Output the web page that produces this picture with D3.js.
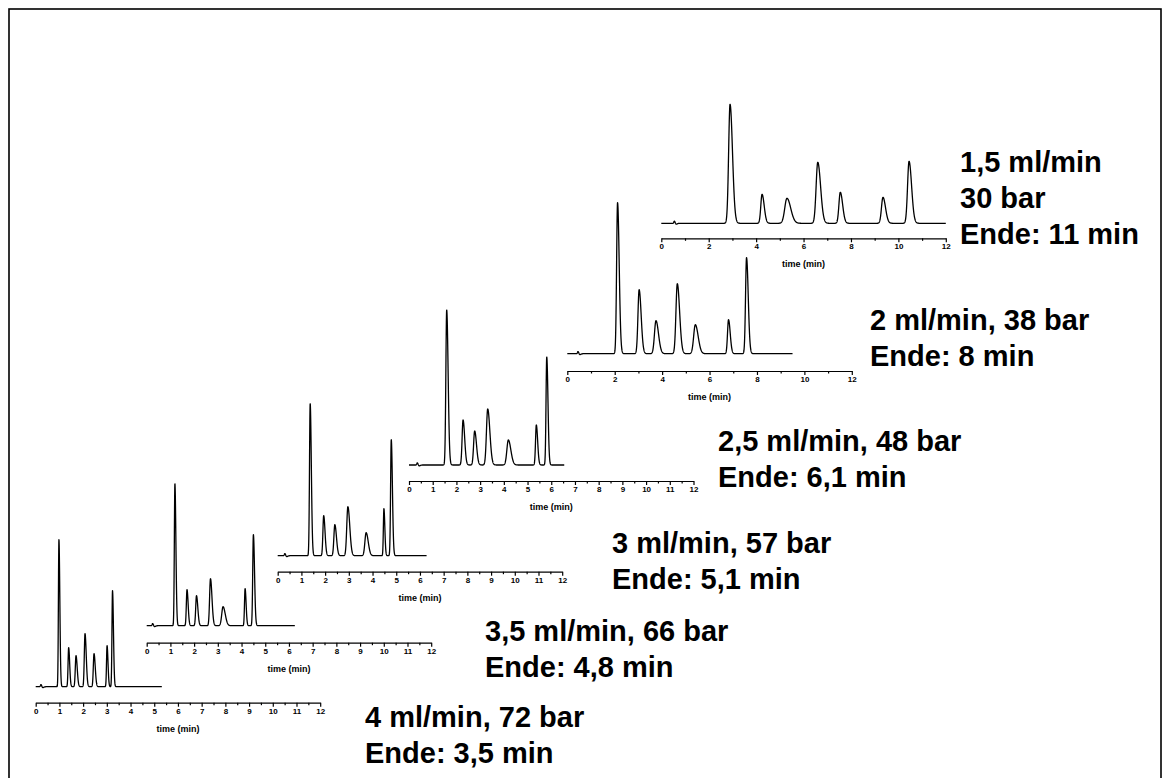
<!DOCTYPE html>
<html>
<head>
<meta charset="utf-8">
<script src="https://cdn.jsdelivr.net/npm/d3@7"></script>
<style>
  html, body { margin: 0; padding: 0; background: #fff; }
  svg { display: block; font-family: Arial, "Liberation Sans", sans-serif; }
  .axis path, .axis line { stroke: #000; stroke-width: 1.2; }
  .axis text { font-size: 8px; font-weight: bold; fill: #000; }
  .axis-title { font-size: 9px; font-weight: bold; }
  .caption { font-size: 29px; font-weight: bold; }
</style>
</head>
<body>
<svg id="chart" width="1162" height="778"></svg>
<script>
// Six HPLC runs of the same sample at increasing flow rates.
const flowRates = ["1,5 ml/min", "2 ml/min", "2,5 ml/min", "3 ml/min", "3,5 ml/min", "4 ml/min"];

const captions = [
  ["1,5 ml/min", "30 bar", "Ende: 11 min"],
  ["2 ml/min, 38 bar", "Ende: 8 min"],
  ["2,5 ml/min, 48 bar", "Ende: 6,1 min"],
  ["3 ml/min, 57 bar", "Ende: 5,1 min"],
  ["3,5 ml/min, 66 bar", "Ende: 4,8 min"],
  ["4 ml/min, 72 bar", "Ende: 3,5 min"]
];

// Peak retention times (min) for each run
const retentionTimes = [
  [2.90, 4.25, 5.30, 6.60, 7.55, 9.35, 10.45],
  [2.12, 3.03, 3.74, 4.64, 5.40, 6.80, 7.56],
  [1.59, 2.28, 2.77, 3.32, 4.19, 5.37, 5.81],
  [1.37, 1.94, 2.41, 2.96, 3.73, 4.48, 4.79],
  [1.19, 1.70, 2.10, 2.69, 3.22, 4.15, 4.50],
  [0.98, 1.39, 1.70, 2.08, 2.46, 3.01, 3.24]
];

// Peak heights (detector units)
const peakHeights = [
  [119, 29, 25, 61, 31, 26, 62],
  [151, 64, 33, 70, 29, 34, 96],
  [155, 45, 34, 56, 25, 40, 108],
  [152, 40, 31, 49, 23, 47, 116],
  [142, 36, 30, 47, 19, 37, 91],
  [147, 39, 31, 53, 33, 41, 96]
];

// Peak widths (leading-edge sigma, min)
const peakWidths = [
  [0.060, 0.053, 0.093, 0.070, 0.058, 0.063, 0.063],
  [0.040, 0.050, 0.063, 0.057, 0.070, 0.042, 0.042],
  [0.035, 0.040, 0.045, 0.053, 0.062, 0.033, 0.030],
  [0.028, 0.033, 0.040, 0.047, 0.052, 0.023, 0.028],
  [0.024, 0.028, 0.033, 0.037, 0.055, 0.025, 0.028],
  [0.022, 0.025, 0.030, 0.030, 0.030, 0.023, 0.023]
];

// Injection disturbance time and end of recording (min)
const injectionTimes = [0.55, 0.45, 0.35, 0.30, 0.25, 0.22];
const recordEnd = [12, 9.5, 6.55, 6.28, 6.25, 5.32];

// Axis ticks
const majorTicksWide = [0, 2, 4, 6, 8, 10, 12];
const minorTicksWide = [1, 3, 5, 7, 9, 11];
const majorTicksFine = [0, 1, 2, 3, 4, 5, 6, 7, 8, 9, 10, 11, 12];
const minorTicksFine = [0.5, 1.5, 2.5, 3.5, 4.5, 5.5, 6.5, 7.5, 8.5, 9.5, 10.5, 11.5];
const axisTitle = "time (min)";

// Placement of each small chromatogram on the page
const layout = [
  { x0: 661.3, axisY: 238.3, baseY: 223.3, ticks: "wide", capX: 960, capY: 171.7 },
  { x0: 567.3, axisY: 371.0, baseY: 353.7, ticks: "wide", capX: 870, capY: 330 },
  { x0: 409.0, axisY: 481.0, baseY: 465.0, ticks: "fine", capX: 718, capY: 451 },
  { x0: 277.7, axisY: 571.7, baseY: 555.7, ticks: "fine", capX: 612, capY: 553 },
  { x0: 146.7, axisY: 642.7, baseY: 625.7, ticks: "fine", capX: 485, capY: 641 },
  { x0: 35.7,  axisY: 702.7, baseY: 686.7, ticks: "fine", capX: 365, capY: 727.3 }
];
const axisLength = 284.5;
const captionLineStep = 36;
const tailFactor = 1.7;

const svg = d3.select("#chart");

// Outer frame
svg.append("rect")
  .attr("x", 9).attr("y", 9)
  .attr("width", 1152).attr("height", 800)
  .attr("fill", "none").attr("stroke", "#000").attr("stroke-width", 1.6);

// Tailing peak profile: gaussian front, wider gaussian tail
function peakShape(t, tr, h, s) {
  const sig = t < tr ? s : s * tailFactor;
  const z = (t - tr) / sig;
  return h * Math.exp(-0.5 * z * z);
}

function signalAt(run, t) {
  let v = 0;
  const rts = retentionTimes[run];
  for (let k = 0; k < rts.length; k++) {
    v += peakShape(t, rts[k], peakHeights[run][k], peakWidths[run][k]);
  }
  const ti = injectionTimes[run];
  v += peakShape(t, ti, 2.2, 0.02) - peakShape(t, ti + 0.07, 1.0, 0.03);
  return v;
}

flowRates.forEach((name, i) => {
  const L = layout[i];
  const g = svg.append("g").attr("class", "run").attr("data-flow", name);

  const x = d3.scaleLinear().domain([0, 12]).range([L.x0, L.x0 + axisLength]);
  const y = d3.scaleLinear().domain([0, 160]).range([L.baseY, L.baseY - 160]);

  const times = d3.range(0, recordEnd[i] + 1e-9, 0.004);
  const line = d3.line()
    .x(t => x(t))
    .y(t => y(signalAt(i, t)))
    .curve(d3.curveLinear);

  g.append("path")
    .datum(times)
    .attr("d", line)
    .attr("fill", "none")
    .attr("stroke", "#000")
    .attr("stroke-width", 1.3)
    .attr("stroke-linejoin", "round");

  const major = L.ticks === "wide" ? majorTicksWide : majorTicksFine;
  const minor = L.ticks === "wide" ? minorTicksWide : minorTicksFine;

  const axisG = g.append("g").attr("class", "axis")
    .attr("transform", `translate(0,${L.axisY})`);
  axisG.call(d3.axisBottom(x).tickValues(major).tickSize(4).tickSizeOuter(0)
    .tickPadding(1.5).tickFormat(d3.format("d")));
  const minorG = g.append("g").attr("class", "axis")
    .attr("transform", `translate(0,${L.axisY})`);
  minorG.call(d3.axisBottom(x).tickValues(minor).tickSize(2.5).tickSizeOuter(0).tickFormat(""));
  minorG.select(".domain").remove();

  g.append("text")
    .attr("class", "axis-title")
    .attr("x", L.x0 + axisLength / 2)
    .attr("y", L.axisY + 29)
    .attr("text-anchor", "middle")
    .text(axisTitle);

  const cap = g.append("text").attr("class", "caption");
  captions[i].forEach((s, j) => {
    cap.append("tspan").attr("x", L.capX).attr("y", L.capY + j * captionLineStep).text(s);
  });
});
</script>
</body>
</html>
